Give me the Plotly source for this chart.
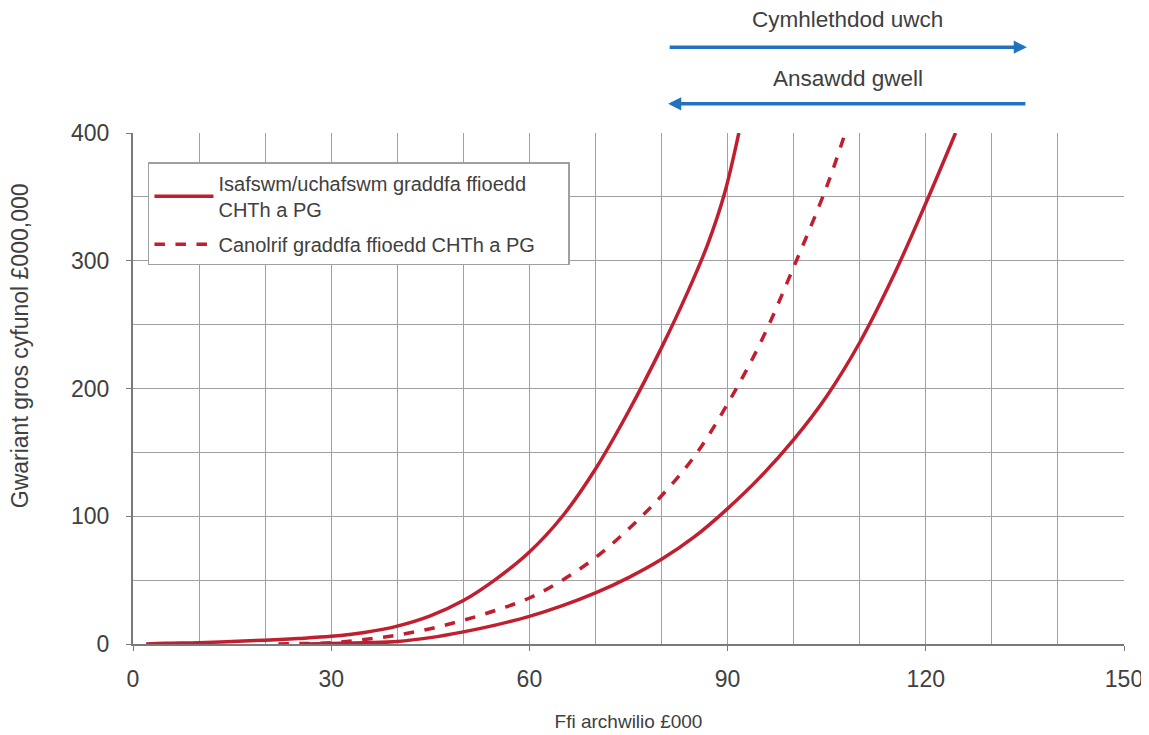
import plotly.graph_objects as go

# Fee scale curves
upper_x = [2, 5, 10, 15, 20, 25, 30, 35, 40, 45, 50, 55, 60, 65, 70, 75, 80, 84, 87, 89.5, 91.7]
upper_y = [0, 0.5, 1, 2, 3, 4.3, 6, 9, 14, 22, 34, 51, 72, 100, 137, 182, 232, 276, 313, 352, 400]

lower_x = [26, 30, 35, 40, 45, 50, 55, 60, 65, 70, 75, 80, 85, 90, 95, 100, 105, 110, 115, 120, 124.5]
lower_y = [0, 0.3, 1, 2, 5, 9.5, 15, 21.6, 30, 40, 52, 66.3, 84, 106, 131, 160, 194, 236, 287, 345, 400]

mid_x = [22, 25, 30, 35, 40, 45, 50, 55, 60, 65, 70, 75, 80, 85, 90, 95, 100, 105, 107.8]
mid_y = [0, 0.3, 1, 3.5, 7, 12, 18.6, 26.5, 36, 50, 67.6, 90, 116, 147, 188, 236, 295, 358, 400]

x_ticks = [0, 30, 60, 90, 120, 150]
y_ticks = [0, 100, 200, 300, 400]

RED = "#C01F30"
BLUE = "#2173BF"
TXT = "#404040"
GRID = "#a0a0a0"
AXIS = "#7a7a7a"
FONT = "Liberation Sans, Arial, sans-serif"
name_range = "Isafswm/uchafswm graddfa ffioedd<br>CHTh a PG"
name_mid = "Canolrif graddfa ffioedd CHTh a PG" + "\u00a0" * 5

fig = go.Figure()
fig.add_trace(go.Scatter(x=upper_x, y=upper_y, mode="lines", name=name_range,
                         legendgroup="range", line=dict(color=RED, width=3.5, shape="spline")))
fig.add_trace(go.Scatter(x=mid_x, y=mid_y, mode="lines", name=name_mid,
                         line=dict(color=RED, width=3.5, dash="dash", shape="spline")))
fig.add_trace(go.Scatter(x=lower_x, y=lower_y, mode="lines", name=name_range,
                         legendgroup="range", showlegend=False,
                         line=dict(color=RED, width=3.5, shape="spline")))

# direction arrows above the plot (head x, tail x, arrow y, label y)
arrows = [("Cymhlethdod uwch", 135.3, 81.0, 1.168, 1.250),
          ("Ansawdd gwell", 81.0, 135.3, 1.057, 1.135)]
for label, head, tail, ay, ty in arrows:
    fig.add_annotation(x=head, y=ay, ax=tail, ay=0, xref="x", yref="paper",
                       axref="x", ayref="pixel", showarrow=True, arrowhead=2,
                       arrowsize=0.75, arrowwidth=3.5, arrowcolor=BLUE, text="")
    fig.add_annotation(x=108.2, y=ty, xref="x", yref="paper", text=label,
                       showarrow=False, font=dict(size=22.5, color=TXT))

# y title sits above the plot centre in the original, so place it by hand
fig.add_annotation(x=-0.129, y=0.583, xref="paper", yref="paper",
                   text="Gwariant gros cyfunol £000,000", textangle=-90,
                   showarrow=False, font=dict(size=23, color=TXT))

fig.update_layout(
    width=1149, height=735,
    margin=dict(l=125, r=33, t=125, b=99),
    paper_bgcolor="white", plot_bgcolor="white",
    font=dict(family=FONT, color=TXT, size=19),
    legend=dict(x=0.0151, y=0.943, xanchor="left", yanchor="top",
                bgcolor="white", bordercolor="#a0a0a0", borderwidth=1.5,
                font=dict(size=20, color=TXT), tracegroupgap=6,
                itemwidth=59),
    showlegend=True,
)
fig.update_xaxes(range=[0, 150], tickvals=x_ticks, ticks="outside", ticklen=5,
                 tickcolor=AXIS, showline=True, linecolor=AXIS,
                 linewidth=2, showgrid=True, gridcolor=GRID, gridwidth=1,
                 minor=dict(dtick=10, showgrid=True, gridcolor=GRID, gridwidth=1),
                 zeroline=False, ticklabelstandoff=8,
                 title=dict(text="Ffi archwilio £000", standoff=24,
                            font=dict(size=19, color=TXT)),
                 tickfont=dict(size=23, color=TXT))
fig.update_yaxes(range=[0, 400], tickvals=y_ticks, ticks="outside", ticklen=5,
                 tickcolor=AXIS, showline=True, linecolor=AXIS,
                 linewidth=2, showgrid=True, gridcolor=GRID, gridwidth=1,
                 minor=dict(dtick=50, showgrid=True, gridcolor=GRID, gridwidth=1),
                 zeroline=False, ticklabelstandoff=12,
                 tickfont=dict(size=23, color=TXT))

fig.write_html("out.html")
